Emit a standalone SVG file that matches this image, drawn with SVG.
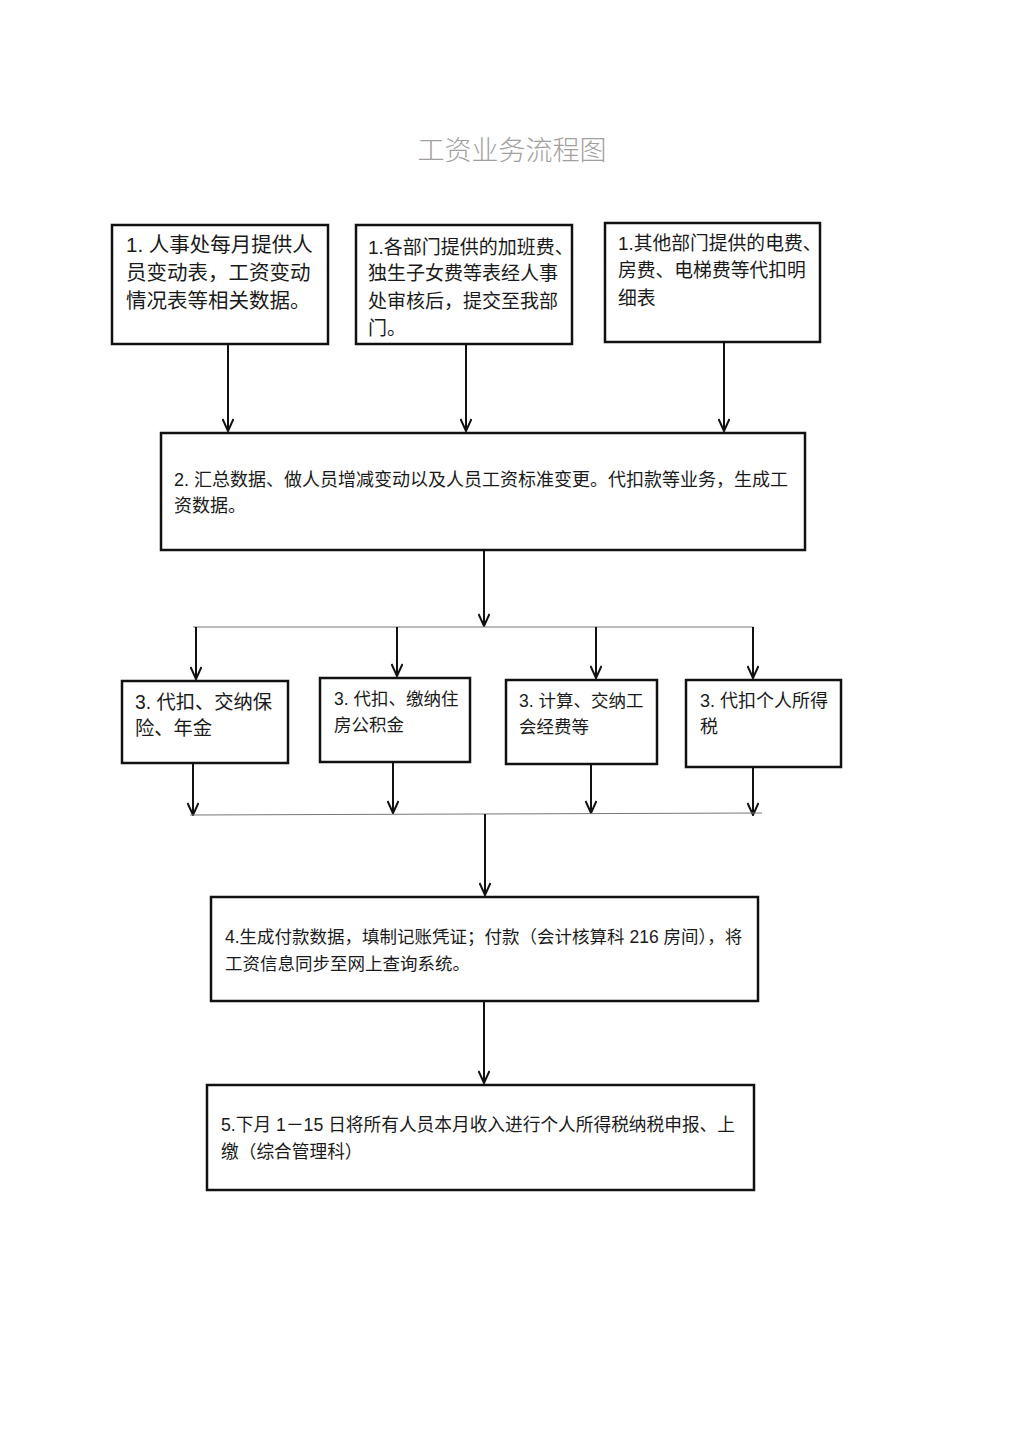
<svg xmlns="http://www.w3.org/2000/svg" width="1024" height="1448" viewBox="0 0 1024 1448">
<defs>
<style>
.box{fill:#fff;stroke:#111;stroke-width:2.5}
.t{font-family:"Liberation Sans","Noto Sans CJK SC",sans-serif;fill:#1a1a1a;font-size:17.5px}
.conn{stroke:#111;stroke-width:2;fill:none}
.thin{stroke:#777;stroke-width:1;fill:none}
.title{font-family:"Noto Sans CJK SC",sans-serif;font-size:27px;fill:#a0a0a0;font-weight:300}
</style>
<marker id="ah" viewBox="0 0 14 12" refX="13" refY="6" markerWidth="14" markerHeight="12" markerUnits="userSpaceOnUse" orient="auto">
<path d="M1,0.5 L13,6 L1,11.5" fill="none" stroke="#111" stroke-width="2"/>
</marker>
</defs>
<rect width="1024" height="1448" fill="#fff"/>
<text class="title" x="512" y="160" text-anchor="middle">工资业务流程图</text>

<g id="n1a"><rect class="box" x="112" y="225" width="216" height="119"/>
<text class="t" style="font-size:20.5px" x="126" y="252">1. 人事处每月提供人</text>
<text class="t" style="font-size:20.5px" x="126" y="280">员变动表，工资变动</text>
<text class="t" style="font-size:20.5px" x="126" y="308">情况表等相关数据。</text></g>

<g id="n1b"><rect class="box" x="356" y="225" width="216" height="119"/>
<text class="t" style="font-size:19px" x="368" y="254">1.各部门提供的加班费、</text>
<text class="t" style="font-size:19px" x="368" y="280">独生子女费等表经人事</text>
<text class="t" style="font-size:19px" x="368" y="308">处审核后，提交至我部</text>
<text class="t" style="font-size:19px" x="368" y="335">门。</text></g>

<g id="n1c"><rect class="box" x="605" y="223" width="215" height="119"/>
<text class="t" style="font-size:18.8px" x="618" y="250">1.其他部门提供的电费、</text>
<text class="t" style="font-size:18.8px" x="618" y="277">房费、电梯费等代扣明</text>
<text class="t" style="font-size:18.8px" x="618" y="305">细表</text></g>

<g id="n2"><rect class="box" x="161" y="433" width="644" height="117"/>
<text class="t" style="font-size:18px" x="174" y="486">2. 汇总数据、做人员增减变动以及人员工资标准变更。代扣款等业务，生成工</text>
<text class="t" style="font-size:18px" x="174" y="512">资数据。</text></g>

<g id="n3a"><rect class="box" x="122" y="681" width="166" height="82"/>
<text class="t" style="font-size:19.3px" x="135" y="709">3. 代扣、交纳保</text>
<text class="t" style="font-size:19.3px" x="135" y="735">险、年金</text></g>

<g id="n3b"><rect class="box" x="320" y="678" width="150" height="84"/>
<text class="t" x="334" y="705">3. 代扣、缴纳住</text>
<text class="t" x="334" y="731">房公积金</text></g>

<g id="n3c"><rect class="box" x="506" y="680" width="151" height="84"/>
<text class="t" x="519" y="707">3. 计算、交纳工</text>
<text class="t" x="519" y="733">会经费等</text></g>

<g id="n3d"><rect class="box" x="686" y="680" width="155" height="87"/>
<text class="t" style="font-size:18px" x="700" y="707">3. 代扣个人所得</text>
<text class="t" style="font-size:18px" x="700" y="733">税</text></g>

<g id="n4"><rect class="box" x="211" y="897" width="547" height="104"/>
<text class="t" x="225" y="943">4.生成付款数据，填制记账凭证；付款（会计核算科 216 房间），将</text>
<text class="t" x="225" y="970">工资信息同步至网上查询系统。</text></g>

<g id="n5"><rect class="box" x="207" y="1085" width="547" height="105"/>
<text class="t" style="font-size:17.7px" x="221" y="1131">5.下月 1－15 日将所有人员本月收入进行个人所得税纳税申报、上</text>
<text class="t" style="font-size:17.7px" x="221" y="1158">缴（综合管理科）</text></g>

<g id="connectors">
<line class="conn" x1="228" y1="345" x2="228" y2="431" marker-end="url(#ah)"/>
<line class="conn" x1="466" y1="345" x2="466" y2="431" marker-end="url(#ah)"/>
<line class="conn" x1="724" y1="343" x2="724" y2="431" marker-end="url(#ah)"/>
<line class="conn" x1="484" y1="551" x2="484" y2="626" marker-end="url(#ah)"/>
<line class="thin" x1="193" y1="627" x2="753" y2="627"/>
<line class="conn" x1="196" y1="627" x2="196" y2="679" marker-end="url(#ah)"/>
<line class="conn" x1="397" y1="627" x2="397" y2="676" marker-end="url(#ah)"/>
<line class="conn" x1="596" y1="627" x2="596" y2="678" marker-end="url(#ah)"/>
<line class="conn" x1="753" y1="627" x2="753" y2="678" marker-end="url(#ah)"/>
<line class="conn" x1="193" y1="764" x2="193" y2="815" marker-end="url(#ah)"/>
<line class="conn" x1="393" y1="763" x2="393" y2="813" marker-end="url(#ah)"/>
<line class="conn" x1="591" y1="765" x2="591" y2="813" marker-end="url(#ah)"/>
<line class="conn" x1="753" y1="768" x2="753" y2="815" marker-end="url(#ah)"/>
<line class="thin" x1="190" y1="815" x2="762" y2="813"/>
<line class="conn" x1="485" y1="814" x2="485" y2="895" marker-end="url(#ah)"/>
<line class="conn" x1="484" y1="1002" x2="484" y2="1083" marker-end="url(#ah)"/>
</g>
</svg>
